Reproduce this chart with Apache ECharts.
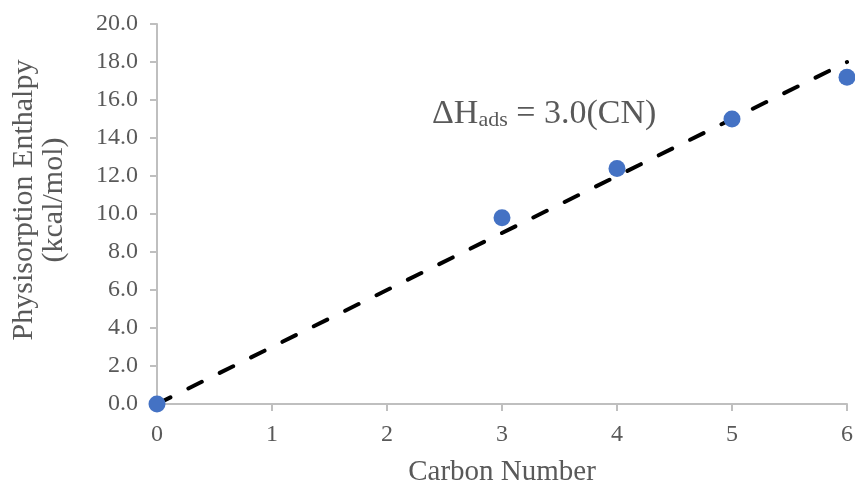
<!DOCTYPE html>
<html><head><meta charset="utf-8">
<script src="https://cdn.jsdelivr.net/npm/echarts@6/dist/echarts.min.js"></script>
<style>html,body{margin:0;padding:0;background:#fff}#c{width:855px;height:485px}</style>
</head><body><div id="c"></div>
<script>
const carbonNumbers = [0, 3, 4, 5, 6];
const enthalpyValues = [0.0, 9.8, 12.4, 15.0, 17.2];
const fitSlope = 3.0;
const fitX = [0, 6];
const yTickLabels = ['0.0','2.0','4.0','6.0','8.0','10.0','12.0','14.0','16.0','18.0','20.0'];

const font = '"Liberation Serif", "Times New Roman", serif';
const txt = '#595959';
const axisCol = '#bfbfbf';

const chart = echarts.init(document.getElementById('c'));
chart.setOption({
  animation: false,
  grid: {left: 157, right: 8, top: 24, bottom: 81, containLabel: false, outerBoundsMode: 'none'},
  xAxis: {
    type: 'value', min: 0, max: 6, interval: 1,
    name: 'Carbon Number', nameLocation: 'middle', nameGap: 54,
    nameTextStyle: {fontFamily: font, fontSize: 29, color: txt},
    axisLine: {show: true, lineStyle: {color: axisCol, width: 2}},
    axisTick: {show: true, length: 7, lineStyle: {color: axisCol, width: 2}},
    axisLabel: {fontFamily: font, fontSize: 24, color: txt, margin: 19},
    splitLine: {show: false}
  },
  yAxis: {
    type: 'value', min: 0, max: 20, interval: 2,
    name: 'Physisorption Enthalpy\n(kcal/mol)', nameLocation: 'middle', nameGap: 88,
    nameTextStyle: {fontFamily: font, fontSize: 30, color: txt, lineHeight: 30, padding: [0, 0, 0, 28]},
    axisLine: {show: true, lineStyle: {color: axisCol, width: 2}},
    axisTick: {show: true, length: 7, lineStyle: {color: axisCol, width: 2}},
    axisLabel: {fontFamily: font, fontSize: 24, color: txt, margin: 19,
      formatter: (v) => yTickLabels[Math.round(v / 2)]},
    splitLine: {show: false}
  },
  series: [
    {
      type: 'line',
      data: fitX.map(x => [x, fitSlope * x]),
      symbol: 'none',
      lineStyle: {color: '#000', width: 4, type: [15, 20], cap: 'round'},
      z: 2
    },
    {
      type: 'scatter',
      data: carbonNumbers.map((x, i) => [x, enthalpyValues[i]]),
      symbol: 'circle', symbolSize: 17,
      itemStyle: {color: '#4472C4', opacity: 1},
      z: 3
    }
  ],
  graphic: [{
    type: 'text', left: 432, top: 97,
    style: {
      text: '{a|ΔH}{b|ads}{a| = 3.0(CN)}',
      rich: {
        a: {fontFamily: font, fontSize: 34, fill: txt, verticalAlign: 'bottom', lineHeight: 36},
        b: {fontFamily: font, fontSize: 22, fill: txt, verticalAlign: 'bottom', lineHeight: 26}
      }
    }
  }]
});
</script></body></html>
